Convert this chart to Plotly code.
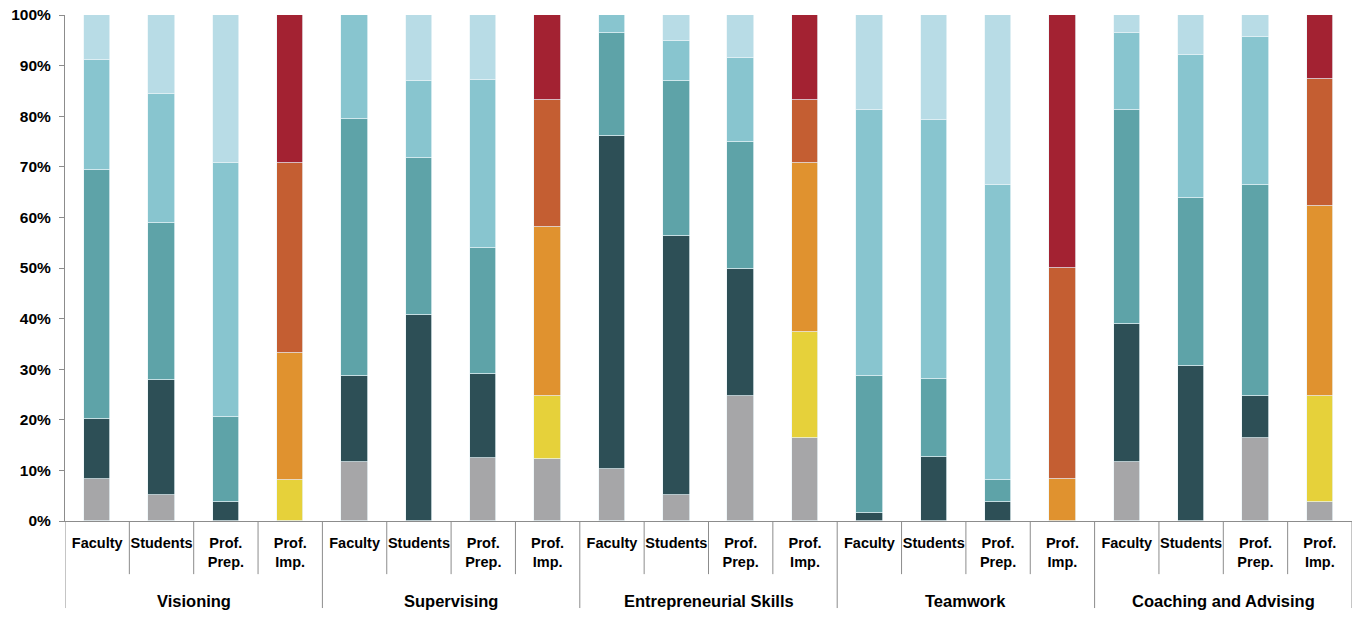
import plotly.graph_objects as go

groups = ["Visioning", "Supervising", "Entrepreneurial Skills", "Teamwork", "Coaching and Advising"]
subgroups = ["Faculty", "Students", "Prof.<br>Prep.", "Prof.<br>Imp."]
ytick_values = [0, 10, 20, 30, 40, 50, 60, 70, 80, 90, 100]
ytick_labels = ["0%", "10%", "20%", "30%", "40%", "50%", "60%", "70%", "80%", "90%", "100%"]

# Segment values (percent), bottom to top, one entry per bar (group-major order)
level1 = [8.3, 5.1, 0.0, 0.0,   11.7, 0.0, 12.4, 12.3,   10.2, 5.1, 24.7, 16.4,   0.0, 0.0, 0.0, 0.0,    11.7, 0.0, 16.5, 3.8]
level2 = [11.8, 22.8, 3.8, 8.1, 17.0, 40.8, 16.7, 12.4,  65.8, 51.3, 25.1, 20.9,  1.6, 12.6, 3.8, 0.0,   27.2, 30.7, 8.2, 20.9]
level3 = [49.3, 31.0, 16.8, 25.2, 50.8, 30.9, 24.9, 33.4, 20.5, 30.6, 25.1, 33.4, 27.1, 15.4, 4.3, 8.3,  42.4, 33.2, 41.8, 37.6]
level4 = [21.8, 25.5, 50.2, 37.4, 20.5, 15.3, 33.1, 25.1, 3.5, 7.9, 16.6, 12.5,   52.6, 51.3, 58.4, 41.7, 15.2, 28.2, 29.2, 25.0]
level5 = [8.8, 15.6, 29.2, 29.3, 0.0, 13.0, 12.9, 16.8,   0.0, 5.1, 8.5, 16.8,    18.7, 20.7, 33.5, 50.0, 3.5, 7.9, 4.3, 12.7]

cool_colors = ["#a6a6a8", "#2d4f56", "#5ea3a8", "#88c5cf", "#b8dce6"]
warm_colors = ["#a6a6a8", "#e6d13a", "#e0922f", "#c45e32", "#a32232"]

levels = [level1, level2, level3, level4, level5]
n_bars = len(groups) * len(subgroups)
xpos = list(range(n_bars))
sub_of_bar = [subgroups[i % 4] for i in range(n_bars)]

fig = go.Figure()
for li, vals in enumerate(levels):
    colors = [warm_colors[li] if s.startswith("Prof.<br>Imp") else cool_colors[li] for s in sub_of_bar]
    fig.add_trace(go.Bar(
        x=xpos, y=vals, width=0.41,
        marker=dict(color=colors, line=dict(color="rgba(235,245,248,0.9)", width=0.8)),
        showlegend=False,
        hovertemplate="%{y:.1f}%<extra></extra>",
    ))

font_family = "Liberation Sans"
axis_color = "#8c8c8c"

shapes = []
for i in range(n_bars + 1):
    is_group = (i % 4 == 0)
    shapes.append(dict(
        type="line", xref="x", yref="paper",
        x0=i - 0.5, x1=i - 0.5, y0=0, y1=-0.172 if is_group else -0.105,
        line=dict(color=axis_color, width=1),
    ))

annotations = []
for gi, g in enumerate(groups):
    annotations.append(dict(
        x=gi * 4 + 1.5, y=-0.158, xref="x", yref="paper",
        text="<b>" + g + "</b>", showarrow=False,
        font=dict(family=font_family, size=16.5, color="#000000"),
        xanchor="center", yanchor="middle",
    ))

fig.update_layout(
    width=1353, height=617,
    margin=dict(l=65, r=1, t=15, b=96),
    barmode="stack", bargap=0,
    plot_bgcolor="white", paper_bgcolor="white",
    shapes=shapes, annotations=annotations,
    xaxis=dict(
        range=[-0.5, n_bars - 0.5],
        tickmode="array", tickvals=xpos,
        ticktext=["<b>" + s + "</b>" for s in sub_of_bar],
        tickfont=dict(family=font_family, size=14.5, color="#000000"),
        ticks="", showgrid=False, zeroline=False,
        showline=True, linecolor=axis_color, linewidth=1,
        ticklabelstandoff=9, automargin=False,
    ),
    yaxis=dict(
        range=[0, 100],
        tickmode="array", tickvals=ytick_values, ticktext=ytick_labels,
        tickfont=dict(family=font_family, size=15.5, color="#000000", weight="bold"),
        ticks="outside", ticklen=5, tickcolor=axis_color,
        ticklabelstandoff=5, ticklabeloverflow="allow",
        showgrid=False, zeroline=False,
        showline=True, linecolor=axis_color, linewidth=1,
        automargin=False,
    ),
)

# Remove the default 8px page margin so the figure fills the window exactly.
fig.write_html(
    "out.html",
    config={"displayModeBar": False},
    post_script="document.body.style.margin='0';",
)
